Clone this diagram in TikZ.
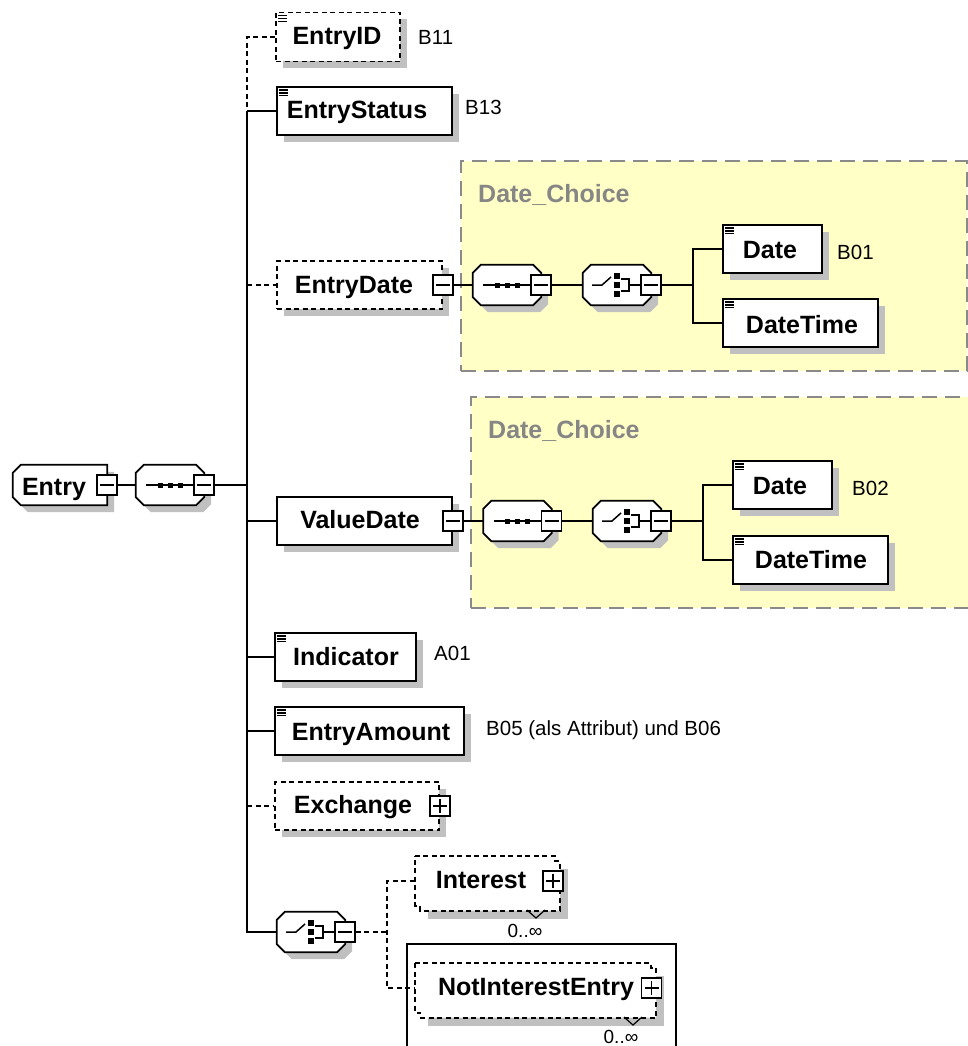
\documentclass[tikz,border=0pt]{standalone}
\usepackage{fontspec}
\setmainfont{Liberation Sans}
\usetikzlibrary{calc,shadows}

\definecolor{shadowc}{HTML}{C0C0C0}
\definecolor{groupfill}{HTML}{FFFFC6}
\definecolor{groupline}{HTML}{8A8A8A}
\definecolor{grouptext}{HTML}{868686}

% compositor octagon (sequence / choice) with its shadow
\newcommand\octo[1]{%
  \fill[shadowc] ($(#1.north west)+(15,7)$) -- ($(#1.north east)+(-1,7)$) -- ($(#1.north east)+(7,15)$) -- ($(#1.south east)+(7,-1)$) -- ($(#1.south east)+(-1,7)$) -- ($(#1.south west)+(15,7)$) -- ($(#1.south west)+(7,-1)$) -- ($(#1.north west)+(7,15)$) -- cycle;
  \filldraw[fill=white, conn] ($(#1.north west)+(8,0)$) -- ($(#1.north east)+(-8,0)$) -- ($(#1.north east)+(0,8)$) -- ($(#1.south east)+(0,-8)$) -- ($(#1.south east)+(-8,0)$) -- ($(#1.south west)+(8,0)$) -- ($(#1.south west)+(0,-8)$) -- ($(#1.north west)+(0,8)$) -- cycle;}
% root element: corners cut on the left only
\newcommand\leftocto[1]{%
  \fill[shadowc] ($(#1.north west)+(15,7)$) -- ($(#1.north east)+(7,7)$) -- ($(#1.south east)+(7,7)$) -- ($(#1.south west)+(15,7)$) -- ($(#1.south west)+(7,-1)$) -- ($(#1.north west)+(7,15)$) -- cycle;
  \filldraw[fill=white, conn] ($(#1.north west)+(8,0)$) -- (#1.north east) -- (#1.south east) -- ($(#1.south west)+(8,0)$) -- ($(#1.south west)+(0,-8)$) -- ($(#1.north west)+(0,8)$) -- cycle;}
% optional element with unbounded occurrence: two stacked dashed boxes
\newcommand\multibox[1]{%
  \fill[shadowc] ($(#1.north west)+(13,13)$) rectangle ($(#1.south east)+(13,13)$);
  \filldraw[fill=white, optconn] (#1.north west) -- (#1.north east) -- ($(#1.north east)+(0,5)$) -- ($(#1.north east)+(5,5)$) -- ($(#1.south east)+(5,5)$) -- ($(#1.south west)+(5,5)$) -- ($(#1.south west)+(5,0)$) -- (#1.south west) -- cycle;}
% sequence symbol
\newcommand\seqicon[1]{%
  \draw[line width=1.5pt] ($(#1)+(-24,0)$) -- ($(#1)+(24,0)$);
  \foreach \dx in {-10,0,10} \fill ($(#1)+(\dx-2.5,-2.5)$) rectangle ++(5,5);}
% choice symbol
\newcommand\choiceicon[1]{%
  \draw[line width=1.5pt] ($(#1)+(-25,0)$) -- ($(#1)+(-15,0)$) -- ($(#1)+(-6,-8)$);
  \foreach \dy in {-9,0,9} \fill ($(#1)+(-3,\dy-3)$) rectangle ++(6,6);
  \draw[line width=1.5pt] ($(#1)+(4,-6)$) -- ($(#1)+(12,-6)$) -- ($(#1)+(12,6)$) -- ($(#1)+(4,6)$);
  \draw[line width=1.5pt] ($(#1)+(12,0)$) -- ($(#1)+(24,0)$);}
% simple-type marker in the upper left corner
\newcommand\simpleicon[1]{%
  \foreach \dy in {4,6.8,9.6} \draw[line width=1.3pt] ($(#1.north west)+(3,\dy)$) -- ++(9,0);}

\begin{document}
\begin{tikzpicture}[x=1pt,y=-1pt,
  conn/.style={line width=1.8pt},
  optconn/.style={line width=1.7pt, dash pattern=on 5pt off 3.5pt},
  elem/.style={draw, fill=white, line width=1.8pt, inner sep=0pt, minimum height=48pt,
    drop shadow={shadow xshift=7pt, shadow yshift=-7pt, fill=shadowc, opacity=1}},
  optelem/.style={elem, line width=1.7pt, dash pattern=on 5pt off 3.5pt},
  comp/.style={inner sep=0pt, minimum width=68pt, minimum height=40pt},
  minus/.style={draw, fill=white, line width=1.5pt, minimum size=20pt, inner sep=0pt,
    path picture={\draw[line width=1.5pt] ($(path picture bounding box.west)+(3,0)$) -- ($(path picture bounding box.east)+(-3,0)$);}},
  plus/.style={draw, fill=white, line width=1.5pt, minimum size=20pt, inner sep=0pt,
    path picture={\draw[line width=1.5pt] ($(path picture bounding box.west)+(3,0)$) -- ($(path picture bounding box.east)+(-3,0)$);
      \draw[line width=1.5pt] ($(path picture bounding box.north)+(0,3)$) -- ($(path picture bounding box.south)+(0,-3)$);}},
  group/.style={draw=groupline, fill=groupfill, line width=2pt, dash pattern=on 15pt off 8pt, inner sep=0pt},
  etext/.style={font=\fontsize{25}{30}\selectfont\bfseries, inner sep=0pt, anchor=base},
  note/.style={font=\fontsize{20.5}{24}\selectfont, inner sep=0pt, anchor=base west},
  gtitle/.style={font=\fontsize{25}{30}\selectfont\bfseries, text=grouptext, inner sep=0pt, anchor=base west},
  mult/.style={font=\fontsize{19}{22}\selectfont, inner sep=0pt, anchor=base}]

\useasboundingbox (0,0) rectangle (968,1046);
\clip (0,0) rectangle (968,1046);

% Date_Choice groups
\node[group, minimum width=506pt, minimum height=210pt] (grp1) at (714,266) {};
\node[gtitle] (grp1T) at (478,202) {Date\_Choice};
\node[group, minimum width=507pt, minimum height=211pt] (grp2) at (724.5,502.5) {};
\node[gtitle] (grp2T) at (488,438) {Date\_Choice};

% root element and its sequence
\node[inner sep=0pt, minimum width=94pt, minimum height=40pt] (entry) at (60,485) {};
\leftocto{entry}
\node[etext] (entryT) at (54,495) {Entry};
\node[minus] (entryM) at (entry.east) {};
\node[comp] (seq0) at (170,485) {};
\octo{seq0}
\seqicon{seq0}
\node[minus] (seq0M) at (seq0.east) {};

% children
\node[optelem, minimum width=124pt, minimum height=49pt] (entryid) at (338,37) {};
\simpleicon{entryid}
\node[etext] (entryidT) at (337,45) {EntryID};
\node[note] (nB11) at (418,45) {B11};

\node[elem, minimum width=175pt] (status) at (364.5,111) {};
\simpleicon{status}
\node[etext] (statusT) at (357,118) {EntryStatus};
\node[note] (nB13) at (465,115) {B13};

\node[optelem, minimum width=165pt] (edate) at (359.5,285) {};
\node[etext] (edateT) at (354,293) {EntryDate};
\node[minus] (edateM) at (edate.east) {};

\node[elem, minimum width=175pt] (vdate) at (364.5,521) {};
\node[etext] (vdateT) at (360,528) {ValueDate};
\node[minus] (vdateM) at (vdate.east) {};

\node[elem, minimum width=141pt] (ind) at (345.5,657) {};
\simpleicon{ind}
\node[etext] (indT) at (346,665) {Indicator};
\node[note] (nA01) at (434,660) {A01};

\node[elem, minimum width=189pt] (amt) at (369.5,731) {};
\simpleicon{amt}
\node[etext] (amtT) at (371,740) {EntryAmount};
\node[note] (nB05) at (486,735) {B05 (als Attribut) und B06};

\node[optelem, minimum width=164pt] (exch) at (357,806) {};
\node[etext] (exchT) at (353,813) {Exchange};
\node[plus] (exchP) at (exch.east) {};

% first Date_Choice content
\node[comp] (seq1) at (507,285) {};
\octo{seq1}
\seqicon{seq1}
\node[minus] (seq1M) at (seq1.east) {};
\node[comp] (ch1) at (617,285) {};
\octo{ch1}
\choiceicon{ch1}
\node[minus] (ch1M) at (ch1.east) {};
\node[elem, minimum width=99pt] (date1) at (772.5,249) {};
\simpleicon{date1}
\node[etext] (date1T) at (770,258) {Date};
\node[note] (nB01) at (837,259) {B01};
\node[elem, minimum width=155pt] (dt1) at (800.5,323) {};
\simpleicon{dt1}
\node[etext] (dt1T) at (802,333) {DateTime};

% second Date_Choice content
\node[comp] (seq2) at (517.5,521) {};
\octo{seq2}
\seqicon{seq2}
\node[minus] (seq2M) at (seq2.east) {};
\node[comp] (ch2) at (627,521) {};
\octo{ch2}
\choiceicon{ch2}
\node[minus] (ch2M) at (ch2.east) {};
\node[elem, minimum width=99pt] (date2) at (782.5,485) {};
\simpleicon{date2}
\node[etext] (date2T) at (780,494) {Date};
\node[note] (nB02) at (852,495) {B02};
\node[elem, minimum width=155pt] (dt2) at (810.5,560) {};
\simpleicon{dt2}
\node[etext] (dt2T) at (811,568) {DateTime};

% closing choice
\node[comp] (ch3) at (311,932) {};
\octo{ch3}
\choiceicon{ch3}
\node[minus] (ch3M) at (ch3.east) {};

\node[draw, line width=1.8pt, inner sep=0pt, minimum width=269pt, minimum height=120pt] (hl) at (541.5,1004) {};

\node[inner sep=0pt, minimum width=140pt, minimum height=49pt] (int) at (485,881) {};
\multibox{int}
\node[etext] (intT) at (481,888) {Interest};
\node[plus] (intP) at (553,881) {};
\draw[line width=1.2pt] (527,910) -- (536,918) -- (545,910);
\node[mult] (intM) at (525,937) {0..∞};

\node[inner sep=0pt, minimum width=236pt, minimum height=49pt] (nie) at (533,988) {};
\multibox{nie}
\node[etext] (nieT) at (536,995) {NotInterestEntry};
\node[plus] (nieP) at (651.5,988) {};
\draw[line width=1.2pt] (624,1017) -- (633,1025) -- (642,1017);
\node[mult] (nieM) at (621,1043) {0..∞};

% bus coordinates
\coordinate (bID) at (247,37);
\coordinate (bStatus) at (247,111);
\coordinate (bEDate) at (247,285);
\coordinate (bEntry) at (247,485);
\coordinate (bVDate) at (247,521);
\coordinate (bInd) at (247,657);
\coordinate (bAmt) at (247,731);
\coordinate (bExch) at (247,806);
\coordinate (bEnd) at (247,932);
\coordinate (j1a) at (693,249);
\coordinate (j1) at (693,285);
\coordinate (j1b) at (693,323);
\coordinate (j2a) at (703,485);
\coordinate (j2) at (703,521);
\coordinate (j2b) at (703,560);
\coordinate (cj) at (387,932);
\coordinate (cjTop) at (387,881);
\coordinate (cjBot) at (387,988);

% connectors
\draw[conn] (entryM.east) -- (seq0.west);
\draw[conn] (seq0M.east) -- (bEntry);
\draw[optconn] (entryid.west) -- (bID) -- (bStatus);
\draw[conn] (bStatus) -- (bEnd) -- (ch3.west);
\draw[conn] (bStatus) -- (status.west);
\draw[optconn] (bEDate) -- (edate.west);
\draw[conn] (bVDate) -- (vdate.west);
\draw[conn] (bInd) -- (ind.west);
\draw[conn] (bAmt) -- (amt.west);
\draw[optconn] (bExch) -- (exch.west);

\draw[conn] (edateM.east) -- (seq1.west);
\draw[conn] (seq1M.east) -- (ch1.west);
\draw[conn] (ch1M.east) -- (j1);
\draw[conn] (date1.west) -- (j1a) -- (j1b) -- (dt1.west);

\draw[conn] (vdateM.east) -- (seq2.west);
\draw[conn] (seq2M.east) -- (ch2.west);
\draw[conn] (ch2M.east) -- (j2);
\draw[conn] (date2.west) -- (j2a) -- (j2b) -- (dt2.west);

\draw[optconn] (ch3M.east) -- (cj);
\draw[optconn] (int.west) -- (cjTop) -- (cjBot) -- (nie.west);
\end{tikzpicture}
\end{document}
